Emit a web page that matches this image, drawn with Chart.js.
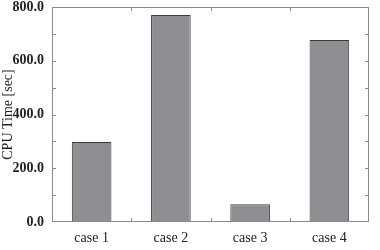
<!DOCTYPE html>
<html>
<head>
<meta charset="utf-8">
<script src="https://cdn.jsdelivr.net/npm/chart.js@4/dist/chart.umd.min.js"></script>
<style>
    html, body { margin: 0; padding: 0; background: #fff; }
    #wrap { width: 380px; height: 250px; position: relative; }
</style>
</head>
<body>
<div id="wrap"><canvas id="chart"></canvas></div>
<script>
const cases = ['case 1', 'case 2', 'case 3', 'case 4'];
const cpuTimes = [298, 770, 66, 677];
const yMin = 0;
const yMax = 800;
const yStep = 100;

// inward ticks + gray frame round the plot
const framePlugin = {
    id: 'frame',
    afterDraw(chart) {
        const ctx = chart.ctx;
        const area = chart.chartArea;
        const x = chart.scales.x;
        const y = chart.scales.y;
        ctx.save();
        ctx.strokeStyle = '#8a8a8a';
        ctx.lineWidth = 1;
        ctx.strokeRect(area.left + 0.5, area.top + 0.5, area.right - area.left - 1, area.bottom - area.top - 1);

        ctx.beginPath();
        for (let v = yMin + yStep; v < yMax; v += yStep) {
            const py = Math.round(y.getPixelForValue(v)) + 0.5;
            ctx.moveTo(area.left, py);
            ctx.lineTo(area.left + 4, py);
            ctx.moveTo(area.right, py);
            ctx.lineTo(area.right - 4, py);
        }
        for (let i = 0; i < cases.length - 1; i++) {
            const px = Math.round((x.getPixelForValue(i) + x.getPixelForValue(i + 1)) / 2) + 0.5;
            ctx.moveTo(px, area.bottom);
            ctx.lineTo(px, area.bottom - 4);
            ctx.moveTo(px, area.top);
            ctx.lineTo(px, area.top + 4);
        }
        ctx.stroke();
        ctx.restore();
    }
};

new Chart(document.getElementById('chart'), {
    type: 'bar',
    data: {
        labels: cases,
        datasets: [{
            data: cpuTimes,
            backgroundColor: '#8d8f93',
            borderColor: '#3a3a3a',
            borderWidth: 1,
            barPercentage: 0.5,
            categoryPercentage: 1.0
        }]
    },
    options: {
        responsive: true,
        maintainAspectRatio: false,
        animation: false,
        layout: { padding: { top: 7, right: 11, left: 0, bottom: 0 } },
        plugins: {
            legend: { display: false },
            tooltip: { enabled: false }
        },
        scales: {
            x: {
                grid: { display: false, drawTicks: false },
                border: { display: false },
                ticks: {
                    color: '#222',
                    padding: 8,
                    font: { family: '"Liberation Serif", "Times New Roman", serif', size: 14 }
                },
                afterFit(scale) {
                    scale.height = 28;
                    scale.paddingLeft = 0;
                    scale.paddingRight = 0;
                }
            },
            y: {
                min: yMin,
                max: yMax,
                grid: { display: false, drawTicks: false },
                border: { display: false },
                ticks: {
                    stepSize: yStep,
                    color: '#222',
                    padding: 8,
                    font: { family: '"Liberation Serif", "Times New Roman", serif', size: 14, weight: 'bold' },
                    callback: (v) => (v % 200 === 0 ? v.toFixed(1) : '')
                },
                title: {
                    display: true,
                    text: 'CPU Time [sec]',
                    color: '#222',
                    padding: 0,
                    font: { family: '"Liberation Serif", "Times New Roman", serif', size: 14 }
                },
                afterFit(scale) {
                    scale.width = 52;
                    scale.paddingTop = 0;
                    scale.paddingBottom = 0;
                }
            }
        }
    },
    plugins: [framePlugin]
});
</script>
</body>
</html>
